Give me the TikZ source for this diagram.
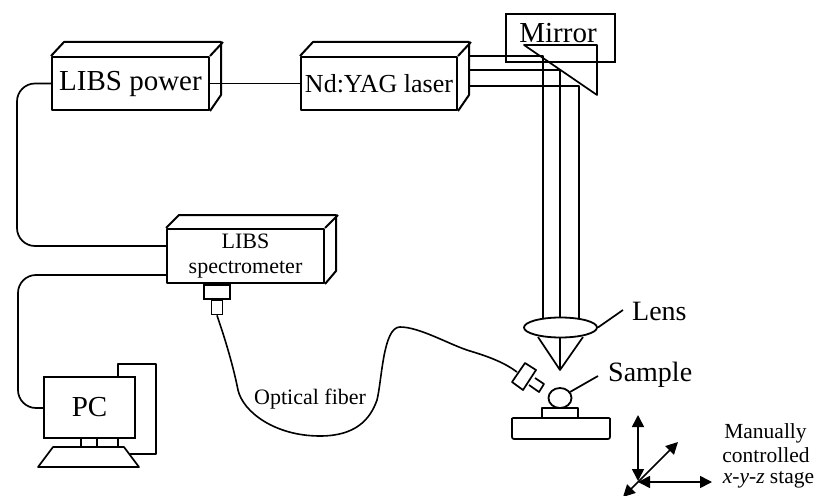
\documentclass[tikz,border=0pt]{standalone}
\usepackage{fontspec}
\setmainfont{Liberation Serif}
\usetikzlibrary{arrows.meta,calc,shapes.geometric}
\tikzset{
  frontbox/.style={draw=black,line width=2pt,minimum width=#1,inner sep=0pt,align=center,minimum height=53pt,line join=round},
  depth/.style={line width=2pt,line join=round},
  ln/.style={line width=1.7pt,line join=round},
  txt/.style={inner sep=0pt,align=center},
  axis/.style={line width=1.6pt,{Triangle[length=12pt,width=12pt]}-{Triangle[length=12pt,width=12pt]}}
}
\begin{document}
\begin{tikzpicture}[x=1pt,y=-1pt]
\useasboundingbox (0,0) rectangle (816,495);
% boxes
\node[frontbox=157pt,font=\fontsize{29}{30}\selectfont] (power) at (130.5,83.5) {LIBS power};
\node[frontbox=156pt,font=\fontsize{26}{28}\selectfont] (laser) at (379,83.5) {Nd:YAG laser};
\node[frontbox=157pt,minimum height=54pt,font=\fontsize{22}{25}\selectfont] (spec) at (245.5,256) {LIBS\\spectrometer};
\draw[depth] (power.north west) -- ++(13,-14) -- ++(157,0) -- ++(0,53) -- (power.south east);
\draw[depth] (power.north east) -- ++(13,-14);
\draw[depth] (laser.north west) -- ++(13,-14) -- ++(156,0) -- ++(0,53) -- (laser.south east);
\draw[depth] (laser.north east) -- ++(13,-14);
\draw[depth] (spec.north west) -- ++(13,-13) -- ++(157,0) -- ++(0,56) -- (spec.south east);
\draw[depth] (spec.north east) -- ++(13,-13);
% power to laser
\draw[ln] (power.east) -- (laser.west);
% cables
\coordinate (specA) at ($(spec.west)+(0,-10)$);
\coordinate (specB) at ($(spec.west)+(0,19)$);
\draw[ln,rounded corners=18pt] (power.west) -- (17,83.5) -- (17,246) -- (specA);
\draw[ln,rounded corners=18pt] (specB) -- (18,275) -- (18,408) -- (44,408);
% connector and fibre
\node[draw,line width=1.7pt,minimum width=26pt,minimum height=14pt,inner sep=0pt,anchor=north] (conA) at ($(spec.south)+(-28.5,0)$) {};
\node[draw,line width=1.7pt,minimum width=11pt,minimum height=14pt,inner sep=0pt,anchor=north] (conB) at (conA.south) {};
% PC
\node[draw,line width=1.9pt,minimum width=91pt,minimum height=61pt,inner sep=0pt,font=\fontsize{29}{30}\selectfont] (pc) at (89.5,407.5) {PC};
\draw[ln] (118,377) -- (118,364) -- (156,364) -- (156,454) -- (130,454);
\draw[ln] (81,438) -- (81,447) (97,438) -- (97,447) (118,438) -- (118,447);
\draw[ln] (53,447) -- (124,447) -- (139,467) -- (38,467) -- cycle;
% mirror
\node[draw,line width=1.8pt,minimum width=109pt,minimum height=48pt,inner sep=0pt] (mirrorbox) at (560.5,38) {};
\node[txt,font=\fontsize{29}{30}\selectfont] (mirrortxt) at (558,33) {Mirror};
\draw[ln] (524,45) -- (597,45) -- (597,95) -- cycle;
% beams
\draw[ln] (470,56) -- (543,56) -- (543,318);
\draw[ln] (470,70) -- (560,70) -- (560,318);
\draw[ln] (470,86) -- (579,86) -- (579,320);
% lens
\node[draw,ellipse,line width=1.8pt,minimum width=73pt,minimum height=20pt,inner sep=0pt,fill=white] (lens) at (560.5,327.5) {};
\coordinate (focus) at (560,370);
\draw[ln] (538,337) -- (focus) -- (583,337);
\draw[ln] (560,337) -- (focus);
\node[txt,anchor=west,font=\fontsize{28}{30}\selectfont] (lenstxt) at (632,311) {Lens};
\draw[ln] (lens.east) -- (623,310);
% sample
\node[draw,ellipse,line width=1.8pt,minimum width=23pt,minimum height=20pt,inner sep=0pt] (sample) at (560,398) {};
\node[txt,anchor=west,font=\fontsize{28}{30}\selectfont] (sampletxt) at (608,375) {Sample};
\draw[ln] (570,392) -- (598,376);
% stage
\draw[ln] (542,417) -- (542,408) -- (578,408) -- (578,417);
\draw[line width=2.8pt,line cap=round] (513,418) -- (609,418);
\draw[ln,rounded corners=2pt] (512,418) -- (512,439) -- (610,439) -- (610,418);
% fibre head
\draw[ln,fill=white] (525,363) -- (536,370) -- (523,390) -- (512,382) -- cycle;
\draw[ln,fill=white] (535,378) -- (544,384) -- (539,392) -- (529,385);
\coordinate (fibreEnd) at (517,372);
\draw[line width=1.6pt] (conB.south) .. controls (222,330) and (232,360) .. (238,390)
  .. controls (243,412) and (275,436) .. (320,436)
  .. controls (355,436) and (370,420) .. (377,400)
  .. controls (382,380) and (383,327) .. (400,327)
  .. controls (420,327) and (450,345) .. (470,351)
  .. controls (490,357) and (505,363) .. (fibreEnd);
\node[txt,anchor=west,font=\fontsize{22}{24}\selectfont] (fibretxt) at (254,399) {Optical fiber};
% axes
\draw[axis] (638,415) -- (638,481);
\draw[axis] (623,497) -- (678,442);
\draw[axis] (638,482) -- (712,482);
\node[txt,font=\fontsize{21.5}{24}\selectfont] (manual) at (765.5,433) {Manually};
\node[txt,font=\fontsize{21.5}{24}\selectfont] (ctrl) at (766,455) {controlled};
\node[txt,font=\fontsize{21.5}{24}\selectfont] (xyz) at (768.5,480) {\textit{x-y-z} stage};
\end{tikzpicture}
\end{document}
